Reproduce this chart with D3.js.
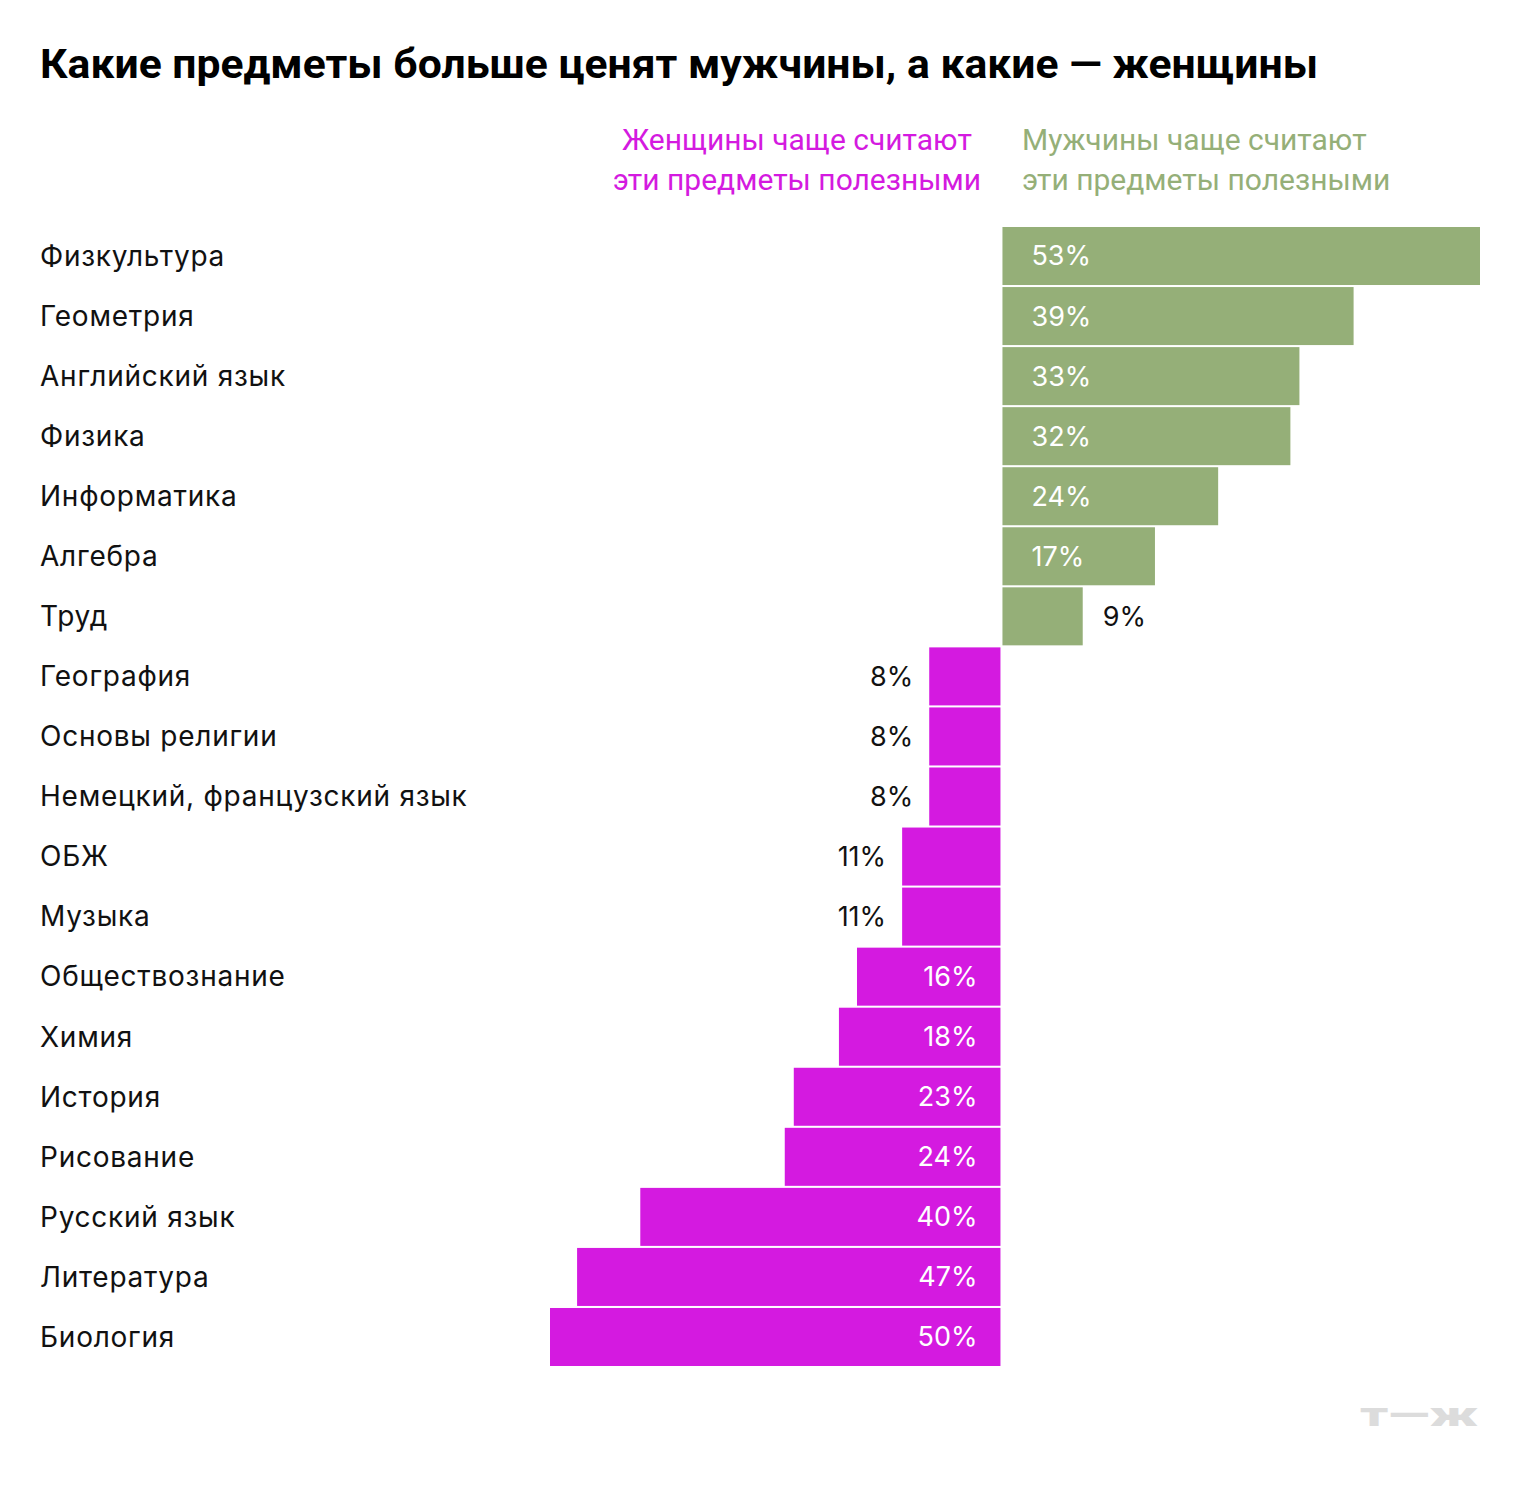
<!DOCTYPE html>
<html>
<head>
<meta charset="utf-8">
<script src="https://cdn.jsdelivr.net/npm/d3@7"></script>
<style>
  body { margin: 0; background: #fff; }
  svg { display: block; }
</style>
</head>
<body>
<div id="chart"></div>
<script>
// Полезные школьные предметы: разница мужчины / женщины
const subjects = [
  'Физкультура', 'Геометрия', 'Английский язык', 'Физика', 'Информатика', 'Алгебра', 'Труд',
  'География', 'Основы религии', 'Немецкий, французский язык', 'ОБЖ', 'Музыка',
  'Обществознание', 'Химия', 'История', 'Рисование', 'Русский язык', 'Литература', 'Биология'
];
// положительные — мужчины, отрицательные — женщины
const values = [53, 39, 33, 32, 24, 17, 9, -8, -8, -8, -11, -11, -16, -18, -23, -24, -40, -47, -50];
const headerWomen = ['Женщины чаще считают', 'эти предметы полезными'];
const headerMen = ['Мужчины чаще считают', 'эти предметы полезными'];

const W = 1520, H = 1486;
const GREEN = '#95af78', MAGENTA = '#d41ae0';
const FONT = 'Inter, Roboto, sans-serif';

const svg = d3.select('#chart').append('svg')
  .attr('width', W).attr('height', H)
  .style('font-family', FONT);

svg.append('text')
  .attr('x', 40).attr('y', 78)
  .attr('textLength', 1278).attr('lengthAdjust', 'spacingAndGlyphs')
  .style('font-family', 'Roboto, sans-serif')
  .style('font-size', '41px').style('font-weight', 700).style('fill', '#000')
  .text('Какие предметы больше ценят мужчины, а какие — женщины');

// headers
const hdr = (lines, x, anchor, color) => {
  lines.forEach((t, i) => {
    svg.append('text')
      .attr('x', x).attr('y', 150 + i * 40)
      .attr('text-anchor', anchor)
      .style('font-family', 'Roboto, sans-serif')
      .style('font-size', '30px').style('fill', color)
      .text(t);
  });
};
hdr(headerWomen, 797, 'middle', MAGENTA);
hdr(headerMen, 1022, 'start', GREEN);

const x = d3.scaleLinear().domain([-50, 53]).range([550, 1480]);
const y = d3.scaleBand().domain(subjects).range([227, 1366]).paddingInner(0.034).paddingOuter(0);

const rows = subjects.map((s, i) => ({ s, v: values[i] }));
const inside = d => Math.abs(d.v) > 12;

svg.append('g').selectAll('rect').data(rows).join('rect')
  .attr('x', d => x(Math.min(0, d.v)) + (d.v < 0 ? 0 : 1))
  .attr('width', d => Math.abs(x(d.v) - x(0)) - 1)
  .attr('y', d => y(d.s))
  .attr('height', y.bandwidth())
  .attr('fill', d => d.v > 0 ? GREEN : MAGENTA);

svg.append('g').selectAll('text').data(rows).join('text')
  .attr('x', 40)
  .attr('y', d => y(d.s) + y.bandwidth() / 2)
  .attr('dy', '0.35em')
  .style('font-size', '28px').style('letter-spacing', '0.75px').style('fill', '#111')
  .text(d => d.s);

svg.append('g').selectAll('text').data(rows).join('text')
  .attr('x', d => {
    if (d.v > 0) return inside(d) ? x(0) + 30 : x(d.v) + 20;
    return inside(d) ? x(0) - 24 : x(d.v) - 16;
  })
  .attr('text-anchor', d => d.v > 0 ? 'start' : 'end')
  .attr('y', d => y(d.s) + y.bandwidth() / 2)
  .attr('dy', '0.35em')
  .style('font-size', '27px')
  .style('fill', d => inside(d) ? '#fff' : '#111')
  .text(d => Math.abs(d.v) + '%');

// logo
svg.append('text')
  .attr('x', 1360).attr('y', 1426)
  .attr('textLength', 118).attr('lengthAdjust', 'spacingAndGlyphs')
  .style('font-family', 'Roboto, sans-serif')
  .style('font-size', '34px').style('font-weight', 900).style('fill', '#dcdcdc')
  .text('т—ж');
</script>
</body>
</html>
